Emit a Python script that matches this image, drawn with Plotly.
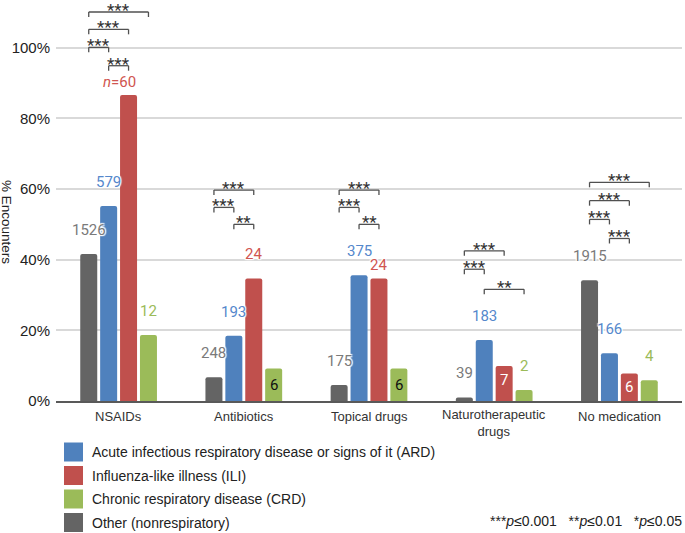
import plotly.graph_objects as go

# ---------------- data ----------------
categories = ["NSAIDs", "Antibiotics", "Topical drugs", "Naturotherapeutic<br>drugs", "No medication"]

series_names = ["Other (nonrespiratory)",
                "Acute infectious respiratory disease or signs of it (ARD)",
                "Influenza-like illness (ILI)",
                "Chronic respiratory disease (CRD)"]

other_pct = [41.6, 6.7, 4.5, 1.0, 34.2]
ard_pct = [55.2, 18.5, 35.6, 17.3, 13.5]
ili_pct = [86.6, 34.7, 34.7, 9.9, 7.8]
crd_pct = [18.7, 9.2, 9.2, 3.1, 5.9]

other_n = [1526, 248, 175, 39, 1915]
ard_n = [579, 193, 375, 183, 166]
ili_n = [60, 24, 24, 7, 6]
crd_n = [12, 6, 6, 2, 4]

# significance brackets: (category index, from series, to series, level %, stars)
brackets = [
    (0, 0, 3, 110.1, "***"), (0, 0, 2, 105.2, "***"), (0, 0, 1, 100.1, "***"), (0, 1, 2, 94.9, "***"),
    (1, 0, 2, 59.7, "***"), (1, 0, 1, 54.8, "***"), (1, 1, 2, 50.0, "**"),
    (2, 0, 2, 59.7, "***"), (2, 0, 1, 54.8, "***"), (2, 1, 2, 50.0, "**"),
    (3, 0, 2, 42.5, "***"), (3, 0, 1, 37.3, "***"), (3, 1, 3, 31.6, "**"),
    (4, 0, 3, 61.9, "***"), (4, 0, 2, 56.7, "***"), (4, 0, 1, 51.4, "***"), (4, 1, 2, 46.0, "***"),
]

legend_order = [1, 2, 3, 0]
footnote = "***<i>p</i>≤0.001   **<i>p</i>≤0.01   *<i>p</i>≤0.05"
y_title = "% Encounters"

# ---------------- styles ----------------
bar_colors = ["#646464", "#4f81bd", "#c0504d", "#9bbb59"]
label_colors = ["#7a7a7a", "#5588cc", "#d05550", "#9bbb59"]
BARGAP = 0.364
BARGROUPGAP = 0.146
SLOT = (1 - BARGAP) / 4

W, H = 685, 533
ML, MR, MT, MB = 56, 3, 0, 132
PW, PH = W - ML - MR, H - MT - MB
YMAX = 113.5

def px_x(x):
    return (x - ML) / PW

def px_y(y):
    return (H - MB - y) / PH

pct = [other_pct, ard_pct, ili_pct, crd_pct]
counts = [other_n, ard_n, ili_n, crd_n]

fig = go.Figure()
for k in range(4):
    fig.add_trace(go.Bar(
        x=categories, y=pct[k], name=series_names[k],
        marker=dict(color=bar_colors[k], line=dict(width=0), cornerradius=2),
        showlegend=False, hoverinfo="skip"))

def bar_x(i, k):
    return i + (k - 1.5) * SLOT

shadow = "-1px -1px 1px #fff, 1px -1px 1px #fff, -1px 1px 1px #fff, 1px 1px 1px #fff, 0 0 2px #fff"
annotations = []
shapes = []

# label offsets (pixels above bar top) and special colours
yshift_over = {(0, 2): 13, (2, 2): 13, (1, 3): -16, (2, 3): -16, (3, 2): -14, (4, 2): -14}
color_over = {(1, 3): "#111111", (2, 3): "#111111", (3, 2): "#ffffff", (4, 2): "#ffffff"}

for i in range(len(categories)):
    for k in range(4):
        txt = str(counts[k][i])
        xs = 0
        if (i, k) == (0, 2):
            txt = "<i>n</i>=" + txt
            xs = -9
        col = color_over.get((i, k), label_colors[k])
        sh = "none" if (i, k) in color_over else shadow
        annotations.append(dict(
            x=bar_x(i, k), y=pct[k][i], xref="x", yref="y", text=txt, showarrow=False,
            yshift=yshift_over.get((i, k), 24), xshift=xs, yanchor="middle",
            font=dict(family="Roboto", size=15, color=col, shadow=sh)))

# category labels
for i, cat in enumerate(categories):
    nlines = cat.count("<br>") + 1
    annotations.append(dict(x=i, y=0, xref="x", yref="y", text=cat, showarrow=False,
                            yanchor="middle", yshift=-(416.5 - 401) - 6.2 * (nlines - 1),
                            font=dict(family="Liberation Sans", size=13, color="#333333")))

for (i, k1, k2, lvl, stars) in brackets:
    x0, x1 = bar_x(i, k1), bar_x(i, k2)
    lc = dict(color="#505050", width=1.3)
    shapes.append(dict(type="line", xref="x", yref="y", x0=x0, x1=x1, y0=lvl, y1=lvl, line=lc))
    for xx in (x0, x1):
        shapes.append(dict(type="line", xref="x", yref="y", x0=xx, x1=xx, ysizemode="pixel",
                           yanchor=lvl, y0=0, y1=-5, line=lc))
    annotations.append(dict(x=(x0 + x1) / 2, y=lvl, xref="x", yref="y", text=stars, showarrow=False,
                            yanchor="bottom", yshift=-9, borderpad=0,
                            font=dict(family="Roboto", size=17, color="#333333")))

# manual legend
for j, k in enumerate(legend_order):
    yc = 452 + j * 23.5
    shapes.append(dict(type="rect", xref="paper", yref="paper",
                       x0=px_x(64), x1=px_x(83), y0=px_y(yc - 9.5), y1=px_y(yc + 9.5),
                       fillcolor=bar_colors[k], line=dict(width=0)))
    annotations.append(dict(x=px_x(90), y=px_y(yc), xref="paper", yref="paper", text=series_names[k],
                            showarrow=False, xanchor="left", yanchor="middle",
                            font=dict(family="Liberation Sans", size=14, color="#222222")))

annotations.append(dict(x=px_x(684), y=px_y(521), xref="paper", yref="paper", text=footnote,
                        showarrow=False, xanchor="right", yanchor="middle",
                        font=dict(family="Liberation Sans", size=14, color="#222222")))
annotations.append(dict(x=px_x(6), y=px_y(222), xref="paper", yref="paper", text=y_title,
                        showarrow=False, textangle=90, xanchor="center", yanchor="middle",
                        font=dict(family="Liberation Sans", size=13.5, color="#222222")))

fig.update_layout(
    width=W, height=H, margin=dict(l=ML, r=MR, t=MT, b=MB),
    paper_bgcolor="white", plot_bgcolor="white",
    barmode="group", bargap=BARGAP, bargroupgap=BARGROUPGAP,
    showlegend=False, shapes=shapes, annotations=annotations,
    xaxis=dict(type="category", showline=True, linecolor="#595959", linewidth=1.5,
               ticks="", showticklabels=False, showgrid=False),
    yaxis=dict(range=[0, YMAX], tickvals=[0, 20, 40, 60, 80, 100],
               ticktext=["0%", "20%", "40%", "60%", "80%", "100%"],
               showgrid=True, gridcolor="#d9d9d9", gridwidth=1.5, zeroline=False,
               showline=False, ticks="", ticklabelstandoff=5,
               tickfont=dict(family="Liberation Sans", size=15, color="#222222")),
)

fig.write_html("out.html", config={"displayModeBar": False},
               post_script="document.body.style.margin='0';document.body.style.overflow='hidden';")
